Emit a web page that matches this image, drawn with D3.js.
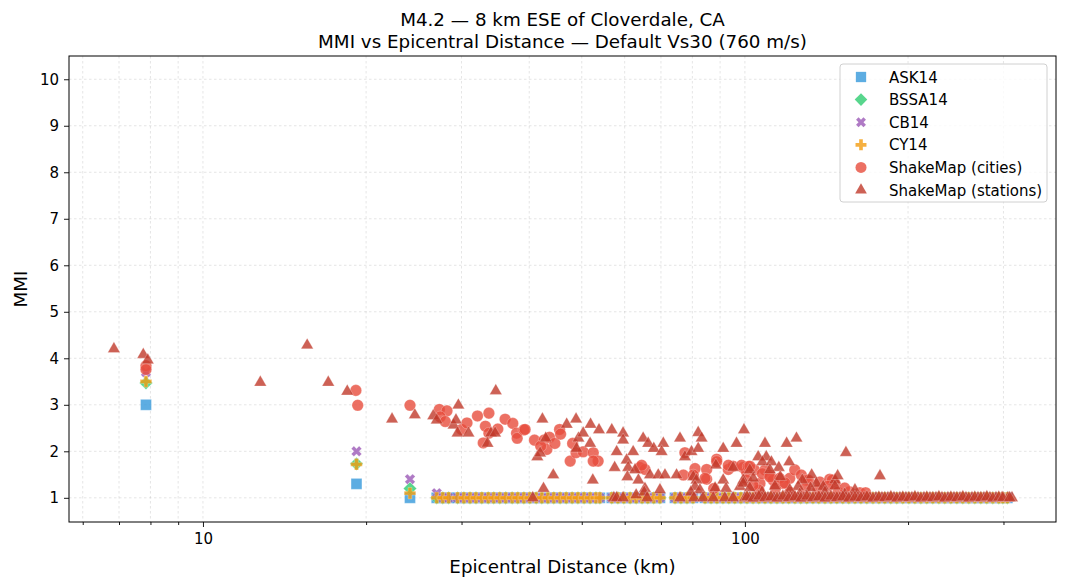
<!DOCTYPE html>
<html>
<head>
<meta charset="utf-8">
<script src="https://cdn.jsdelivr.net/npm/d3@7"></script>
<style>
  body { margin: 0; background: #fff; }
  text { font-family: "DejaVu Sans", sans-serif; fill: #000; }
</style>
</head>
<body>
<svg id="chart" width="1067" height="588"></svg>
<script>
// ---- data ----
let titleLines = ["M4.2 \u2014 8 km ESE of Cloverdale, CA",
                  "MMI vs Epicentral Distance \u2014 Default Vs30 (760 m/s)"];
let seriesNames = ["ASK14", "BSSA14", "CB14", "CY14", "ShakeMap (cities)", "ShakeMap (stations)"];
let xMajorTicks = [10, 100];
let xMinorTicks = [6, 7, 8, 9, 20, 30, 40, 50, 60, 70, 80, 90, 200, 300];
let yTicks = [1, 2, 3, 4, 5, 6, 7, 8, 9, 10];

// GMPE predictions share the site distances (km)
let gmpeDist = [7.85, 19.2, 24.1,
  27.0, 27.7, 28.4, 29.5, 30.3, 31.1, 31.9, 32.7, 33.6, 34.4, 35.3, 36.2, 37.2, 38.1,
  39.1, 40.1, 41.2, 42.2, 43.3, 44.4, 45.6, 46.8, 48.0, 49.2, 50.5, 51.8, 53.1, 54.0,
  56.8, 58.3, 59.8, 61.4, 63.0, 64.6, 66.2, 67.9, 69.7, 74.3, 76.2, 78.2, 80.2,
  84.4, 86.6, 88.8, 91.1, 93.4, 95.8, 98.3,
  100.9, 103.5, 106.1, 108.9, 111.7, 114.6, 117.5, 120.5, 123.7, 126.8, 130.1, 133.5,
  136.9, 140.5, 144.1, 147.8, 151.6, 155.5, 159.6, 163.7, 167.9, 172.3, 176.7, 181.2,
  185.9, 190.7, 195.6, 200.7, 205.9, 211.2, 216.6, 222.2, 228.0, 233.8, 239.9, 246.1,
  252.4, 258.9, 265.6, 272.5, 279.5, 286.7, 294.1, 299.2, 305.0];
let ask14 = [3.0, 1.3, 1.0,
  1, 1, 1, 1, 1, 1, 1, 1, 1, 1, 1, 1, 1, 1, 1, 1, 1, 1, 1, 1, 1, 1, 1, 1, 1, 1, 1, 1,
  1, 1, 1, 1, 1, 1, 1, 1, 1, 1, 1, 1, 1, 1, 1, 1, 1, 1, 1, 1,
  1, 1, 1, 1, 1, 1, 1, 1, 1, 1, 1, 1, 1, 1, 1, 1, 1, 1, 1, 1, 1, 1, 1, 1,
  1, 1, 1, 1, 1, 1, 1, 1, 1, 1, 1, 1, 1, 1, 1, 1, 1, 1, 1, 1, 1];
let bssa14 = [3.47, 1.73, 1.2,
  1, 1, 1, 1, 1, 1, 1, 1, 1, 1, 1, 1, 1, 1, 1, 1, 1, 1, 1, 1, 1, 1, 1, 1, 1, 1, 1, 1,
  1, 1, 1, 1, 1, 1, 1, 1, 1, 1, 1, 1, 1, 1, 1, 1, 1, 1, 1, 1,
  1, 1, 1, 1, 1, 1, 1, 1, 1, 1, 1, 1, 1, 1, 1, 1, 1, 1, 1, 1, 1, 1, 1, 1,
  1, 1, 1, 1, 1, 1, 1, 1, 1, 1, 1, 1, 1, 1, 1, 1, 1, 1, 1, 1, 1];
let cb14 = [3.7, 2.0, 1.4,
  1.1, 1, 1, 1, 1, 1, 1, 1, 1, 1, 1, 1, 1, 1, 1, 1, 1, 1, 1, 1, 1, 1, 1, 1, 1, 1, 1, 1,
  1, 1, 1, 1, 1, 1, 1, 1, 1, 1, 1, 1, 1, 1, 1, 1, 1, 1, 1, 1,
  1, 1, 1, 1, 1, 1, 1, 1, 1, 1, 1, 1, 1, 1, 1, 1, 1, 1, 1, 1, 1, 1, 1, 1,
  1, 1, 1, 1, 1, 1, 1, 1, 1, 1, 1, 1, 1, 1, 1, 1, 1, 1, 1, 1, 1];
let cy14 = [3.5, 1.72, 1.1,
  1, 1, 1, 1, 1, 1, 1, 1, 1, 1, 1, 1, 1, 1, 1, 1, 1, 1, 1, 1, 1, 1, 1, 1, 1, 1, 1, 1,
  1, 1, 1, 1, 1, 1, 1, 1, 1, 1, 1, 1, 1, 1, 1, 1, 1, 1, 1, 1,
  1, 1, 1, 1, 1, 1, 1, 1, 1, 1, 1, 1, 1, 1, 1, 1, 1, 1, 1, 1, 1, 1, 1, 1,
  1, 1, 1, 1, 1, 1, 1, 1, 1, 1, 1, 1, 1, 1, 1, 1, 1, 1, 1, 1, 1];

// ShakeMap city intensities
let cityDist = [7.85, 7.85, 19.15, 19.3, 24.1, 27.3, 28.2, 27.4, 28.0, 30.0, 30.7, 32.1,
  33.7, 33.2, 33.7, 32.9, 35.0, 36.1, 37.3, 37.9, 38.0, 39.1, 39.3, 40.9, 42.6, 43.6,
  43.1, 42.0, 44.6, 45.5, 45.7, 47.6, 48.1, 48.8, 50.3, 52.5, 53.6, 52.5, 64.0, 65.4,
  64.5, 77.5, 77.0, 80.9, 80.3, 85.0, 85.0, 88.7, 88.7, 87.6, 93.2, 95.1, 99.3, 100.7,
  100.7, 98.6, 101.4, 104.1, 108.9, 111.2, 112.7, 121.0, 123.6, 127.1, 129.7, 137.5,
  143.4, 146.6, 117.6, 106.6, 156.0, 163.0, 167.0, 93.2, 107.7, 111.2, 115.9, 130.9,
  144.9, 84.4, 102.1, 106.1, 113.9, 121.0, 129.2, 136.4, 142.3, 148.5, 152.8, 103.5, 118.5];
let cityMmi = [3.84, 3.76, 3.31, 2.99, 2.99, 2.90, 2.87, 2.74, 2.64, 2.47, 2.61, 2.76,
  2.82, 2.54, 2.39, 2.18, 2.48, 2.69, 2.60, 2.39, 2.28, 2.46, 2.47, 2.24, 2.24, 2.30,
  2.04, 2.11, 2.17, 2.47, 2.37, 1.79, 2.17, 1.97, 1.99, 1.97, 1.79, 1.79, 1.65, 1.61,
  1.70, 1.97, 1.49, 1.63, 1.49, 1.61, 1.40, 1.83, 1.78, 1.20, 1.61, 1.68, 1.65, 1.56,
  1.38, 1.70, 1.67, 1.60, 1.60, 1.49, 1.38, 1.42, 1.60, 1.49, 1.38, 1.34,
  1.40, 1.31, 1.31, 1.31, 1.13, 1.11, 1.11, 1.70, 1.52, 1.45, 1.42, 1.38,
  1.38, 1.42, 1.68, 1.17, 1.21, 1.12, 1.21, 1.17, 1.25, 1.12, 1.21, 1.27, 1.32];

// ShakeMap station intensities
let stationDist = [6.85, 7.76, 7.91, 12.76, 15.57, 17.03, 18.46, 22.33, 24.6, 26.6, 27.0,
  29.6, 29.0, 29.3, 29.5, 30.9, 34.7, 33.5, 34.0, 34.6, 42.3, 41.4, 41.9, 42.9, 44.3,
  42.5, 40.6, 46.9, 48.8, 49.3, 48.9, 51.9, 53.8, 50.3, 51.8, 56.8, 59.6, 59.6, 52.4,
  58.0, 57.5, 60.5, 60.9, 60.7, 62.2, 62.7, 63.6, 64.9, 66.3, 67.9, 66.8, 69.2, 70.7,
  70.2, 71.2, 65.4, 63.0, 75.9, 74.8, 77.5, 79.7, 82.0, 83.2, 82.0, 80.3, 81.4, 80.9,
  91.2, 88.4, 91.2, 95.1, 96.5, 99.6, 99.3, 97.9, 92.3, 108.9, 119.4, 124.5, 153.6,
  177.5, 105.8, 109.5, 107.7, 111.9, 120.7, 115.5, 111.2, 102.1, 103.6, 116.2, 127.6,
  132.8, 135.5, 146.6, 148.3, 125.4, 139.5, 99.3,
  102.1, 107.5, 113.6, 121.0, 126.2, 132.2, 140.5, 146.6, 152.8, 159.6, 82.6, 88.1,
  79.5, 69.7, 65.2,
  57.3, 58.0, 59.6, 66.0, 75.9, 80.5, 83.7, 87.4, 91.8, 95.1, 100.0, 102.1, 104.8,
  107.5, 110.3, 113.1, 116.0, 119.0, 122.1, 125.3, 128.5, 131.8, 135.2, 138.7, 142.3,
  145.9, 149.7, 153.6, 157.5, 161.6, 165.8, 170.1, 174.5, 179.0, 183.6, 188.4, 193.2,
  198.2, 203.3, 208.6, 214.0, 219.5, 225.2, 231.0, 236.9, 243.1, 249.4, 255.8, 262.4,
  269.2, 276.1, 283.2, 290.6, 298.1, 305.7, 311.0,
  100.9, 103.5, 106.1, 108.9, 111.7, 114.6, 117.5, 120.5, 123.7, 126.8, 130.1, 133.5,
  136.9, 140.5, 144.1, 147.8, 151.6, 155.5, 159.6, 163.7, 167.9, 172.3, 176.7, 181.2,
  185.9, 190.7, 195.6, 200.7, 205.9, 211.2, 216.6, 222.2, 228.0, 233.8, 239.9, 246.1,
  252.4, 258.9, 265.6, 272.5, 279.5, 286.7, 294.1, 299.2, 308.0];
let stationMmi = [4.20, 4.08, 3.96, 3.48, 4.28, 3.48, 3.29, 2.69, 2.78, 2.76, 2.67,
  2.99, 2.56, 2.67, 2.39, 2.39, 3.30, 2.17, 2.39, 2.39, 2.69, 1.88, 1.96, 2.28, 1.49,
  1.20, 1.00, 2.58, 2.69, 2.28, 2.06, 2.58, 2.46, 2.39, 2.17, 2.46, 2.39, 2.24, 1.38,
  1.99, 1.65, 1.81, 1.65, 1.45, 1.99, 1.60, 1.38, 2.28, 2.17, 2.06, 1.49, 1.49, 2.17,
  1.99, 1.49, 1.20, 1.06, 2.28, 1.49, 1.88, 1.99, 2.40, 2.28, 2.06, 1.45, 1.38, 1.24,
  2.06, 1.70, 1.38, 1.65, 2.17, 2.46, 1.38, 1.24, 1.20, 2.17, 2.17, 2.28, 1.97,
  1.47, 1.88, 1.88, 1.77, 1.77, 1.77, 1.65, 1.60, 1.60, 1.42, 1.45, 1.38,
  1.49, 1.31, 1.38, 1.47, 1.24, 1.24, 1.31,
  1.21, 1.12, 1.25, 1.17, 1.08, 1.21, 1.12, 1.25, 1.08, 1.17, 1.17, 1.21,
  1.12, 1.17, 1.12,
  1.00, 1.00, 1.00, 1.00, 1.00, 1.00, 1.00, 1.00, 1.00, 1.00, 1.00, 1.00, 1.00,
  1.00, 1.00, 1.00, 1.00, 1.00, 1.00, 1.00, 1.00, 1.00, 1.00, 1.00, 1.00,
  1.00, 1.00, 1.00, 1.00, 1.00, 1.00, 1.00, 1.00, 1.00, 1.00, 1.00, 1.00,
  1.00, 1.00, 1.00, 1.00, 1.00, 1.00, 1.00, 1.00, 1.00, 1.00, 1.00, 1.00,
  1.00, 1.00, 1.00, 1.00, 1.00, 1.00, 1.00,
  1.02, 0.99, 1.03, 1.00, 1.02, 0.99, 1.03, 1.00, 1.02, 0.99, 1.03, 1.00,
  1.02, 0.99, 1.03, 1.00, 1.02, 0.99, 1.01, 1.00, 1.02, 0.99, 1.01, 1.00,
  1.02, 0.99, 1.01, 1.00, 1.02, 0.99, 1.01, 1.00, 1.02, 0.99, 1.01, 1.00,
  1.02, 0.99, 1.01, 1.00, 1.02, 0.99, 1.01, 1.00, 1.00];

// ---- layout ----
let svg = d3.select('#chart');
let margin = {left: 69, top: 56, right: 11, bottom: 66};
let plotW = 1067 - margin.left - margin.right;
let plotH = 588 - margin.top - margin.bottom;

let xscale = d3.scaleLog().domain([5.66, 375]).range([0, plotW]);
let yscale = d3.scaleLinear().domain([0.48, 10.5]).range([plotH, 0]);

let g = svg.append('g').attr('transform', `translate(${margin.left}, ${margin.top})`);

// grid (major + minor on log x)
let grid = g.append('g');
grid.selectAll('.xg')
    .data(xMajorTicks.concat(xMinorTicks))
    .enter().append('line')
    .attr('x1', d => xscale(d)).attr('x2', d => xscale(d))
    .attr('y1', 0).attr('y2', plotH)
    .attr('stroke', '#b0b0b0').attr('stroke-opacity', 0.55)
    .attr('stroke-width', 0.6).attr('stroke-dasharray', '2.5,2.5');
grid.selectAll('.yg')
    .data(yTicks)
    .enter().append('line')
    .attr('x1', 0).attr('x2', plotW)
    .attr('y1', d => yscale(d)).attr('y2', d => yscale(d))
    .attr('stroke', '#b0b0b0').attr('stroke-opacity', 0.55)
    .attr('stroke-width', 0.6).attr('stroke-dasharray', '2.5,2.5');

// marker styles
let styles = [
  {name: seriesNames[0], color: '#3498db', type: d3.symbolSquare, size: 118, rot: 0},
  {name: seriesNames[1], color: '#2ecc71', type: d3.symbolSquare, size: 88, rot: 45},
  {name: seriesNames[2], color: '#9b59b6', type: d3.symbolCross, size: 68, rot: 45},
  {name: seriesNames[3], color: '#f39c12', type: d3.symbolCross, size: 74, rot: 0},
  {name: seriesNames[4], color: '#e74c3c', type: d3.symbolCircle, size: 106, rot: 0},
  {name: seriesNames[5], color: '#c0392b', type: d3.symbolTriangle, size: 66, rot: 0}
];
let seriesData = [
  gmpeDist.map((d, i) => [d, ask14[i]]),
  gmpeDist.map((d, i) => [d, bssa14[i]]),
  gmpeDist.map((d, i) => [d, cb14[i]]),
  gmpeDist.map((d, i) => [d, cy14[i]]),
  cityDist.map((d, i) => [d, cityMmi[i]]),
  stationDist.map((d, i) => [d, stationMmi[i]])
];

let marks = g.append('g');
styles.forEach((s, k) => {
  let sym = d3.symbol().type(s.type).size(s.size);
  marks.append('g').selectAll('path')
    .data(seriesData[k])
    .enter().append('path')
    .attr('d', sym)
    .attr('transform', d => `translate(${xscale(d[0])}, ${yscale(d[1])}) rotate(${s.rot})`)
    .attr('fill', s.color)
    .attr('fill-opacity', 0.8)
    .attr('stroke', '#fff').attr('stroke-opacity', 0.5).attr('stroke-width', 0.5);
});

// axes
let xaxis = d3.axisBottom(xscale).tickValues(xMajorTicks).tickFormat(d3.format('d'))
              .tickSizeOuter(0).tickSize(5).tickPadding(6);
let xaxisMinor = d3.axisBottom(xscale).tickValues(xMinorTicks).tickFormat('')
              .tickSizeOuter(0).tickSize(3);
let yaxis = d3.axisLeft(yscale).tickValues(yTicks).tickSizeOuter(0).tickSize(5).tickPadding(5);

g.append('g').attr('transform', `translate(0, ${plotH})`).call(xaxis)
  .call(a => a.select('.domain').remove())
  .selectAll('text').style('font-size', '15px').style('font-family', 'DejaVu Sans');
g.append('g').attr('transform', `translate(0, ${plotH})`).call(xaxisMinor)
  .call(a => a.select('.domain').remove());
g.append('g').call(yaxis)
  .call(a => a.select('.domain').remove())
  .selectAll('text').style('font-size', '15px').style('font-family', 'DejaVu Sans');
g.selectAll('.tick line').attr('stroke', '#000').attr('stroke-width', 0.9);

// frame
g.append('rect').attr('width', plotW).attr('height', plotH)
  .attr('fill', 'none').attr('stroke', '#000').attr('stroke-width', 1);

// labels
svg.selectAll('.title')
  .data(titleLines)
  .enter().append('text')
  .attr('x', margin.left + plotW / 2)
  .attr('y', (d, i) => 26 + i * 22)
  .attr('text-anchor', 'middle')
  .style('font-size', '18.3px')
  .text(d => d);
svg.append('text')
  .attr('x', margin.left + plotW / 2).attr('y', 573)
  .attr('text-anchor', 'middle').style('font-size', '18.3px')
  .text('Epicentral Distance (km)');
svg.append('text')
  .attr('transform', `translate(27, ${margin.top + plotH / 2}) rotate(-90)`)
  .attr('text-anchor', 'middle').style('font-size', '18.3px')
  .text('MMI');

// legend
let legend = svg.append('g').attr('transform', 'translate(840, 64)');
legend.append('rect')
  .attr('width', 207).attr('height', 138).attr('rx', 3)
  .attr('fill', '#fff').attr('fill-opacity', 0.8)
  .attr('stroke', '#d0d0d0').attr('stroke-width', 1);
styles.forEach((s, i) => {
  let sym = d3.symbol().type(s.type).size(s.size * 0.9);
  let yy = 13 + i * 22.6;
  legend.append('path')
    .attr('d', sym)
    .attr('transform', `translate(21, ${yy}) rotate(${s.rot})`)
    .attr('fill', s.color).attr('fill-opacity', 0.8);
  legend.append('text')
    .attr('x', 49).attr('y', yy + 5.5)
    .style('font-size', '15px')
    .text(s.name);
});
</script>
</body>
</html>
